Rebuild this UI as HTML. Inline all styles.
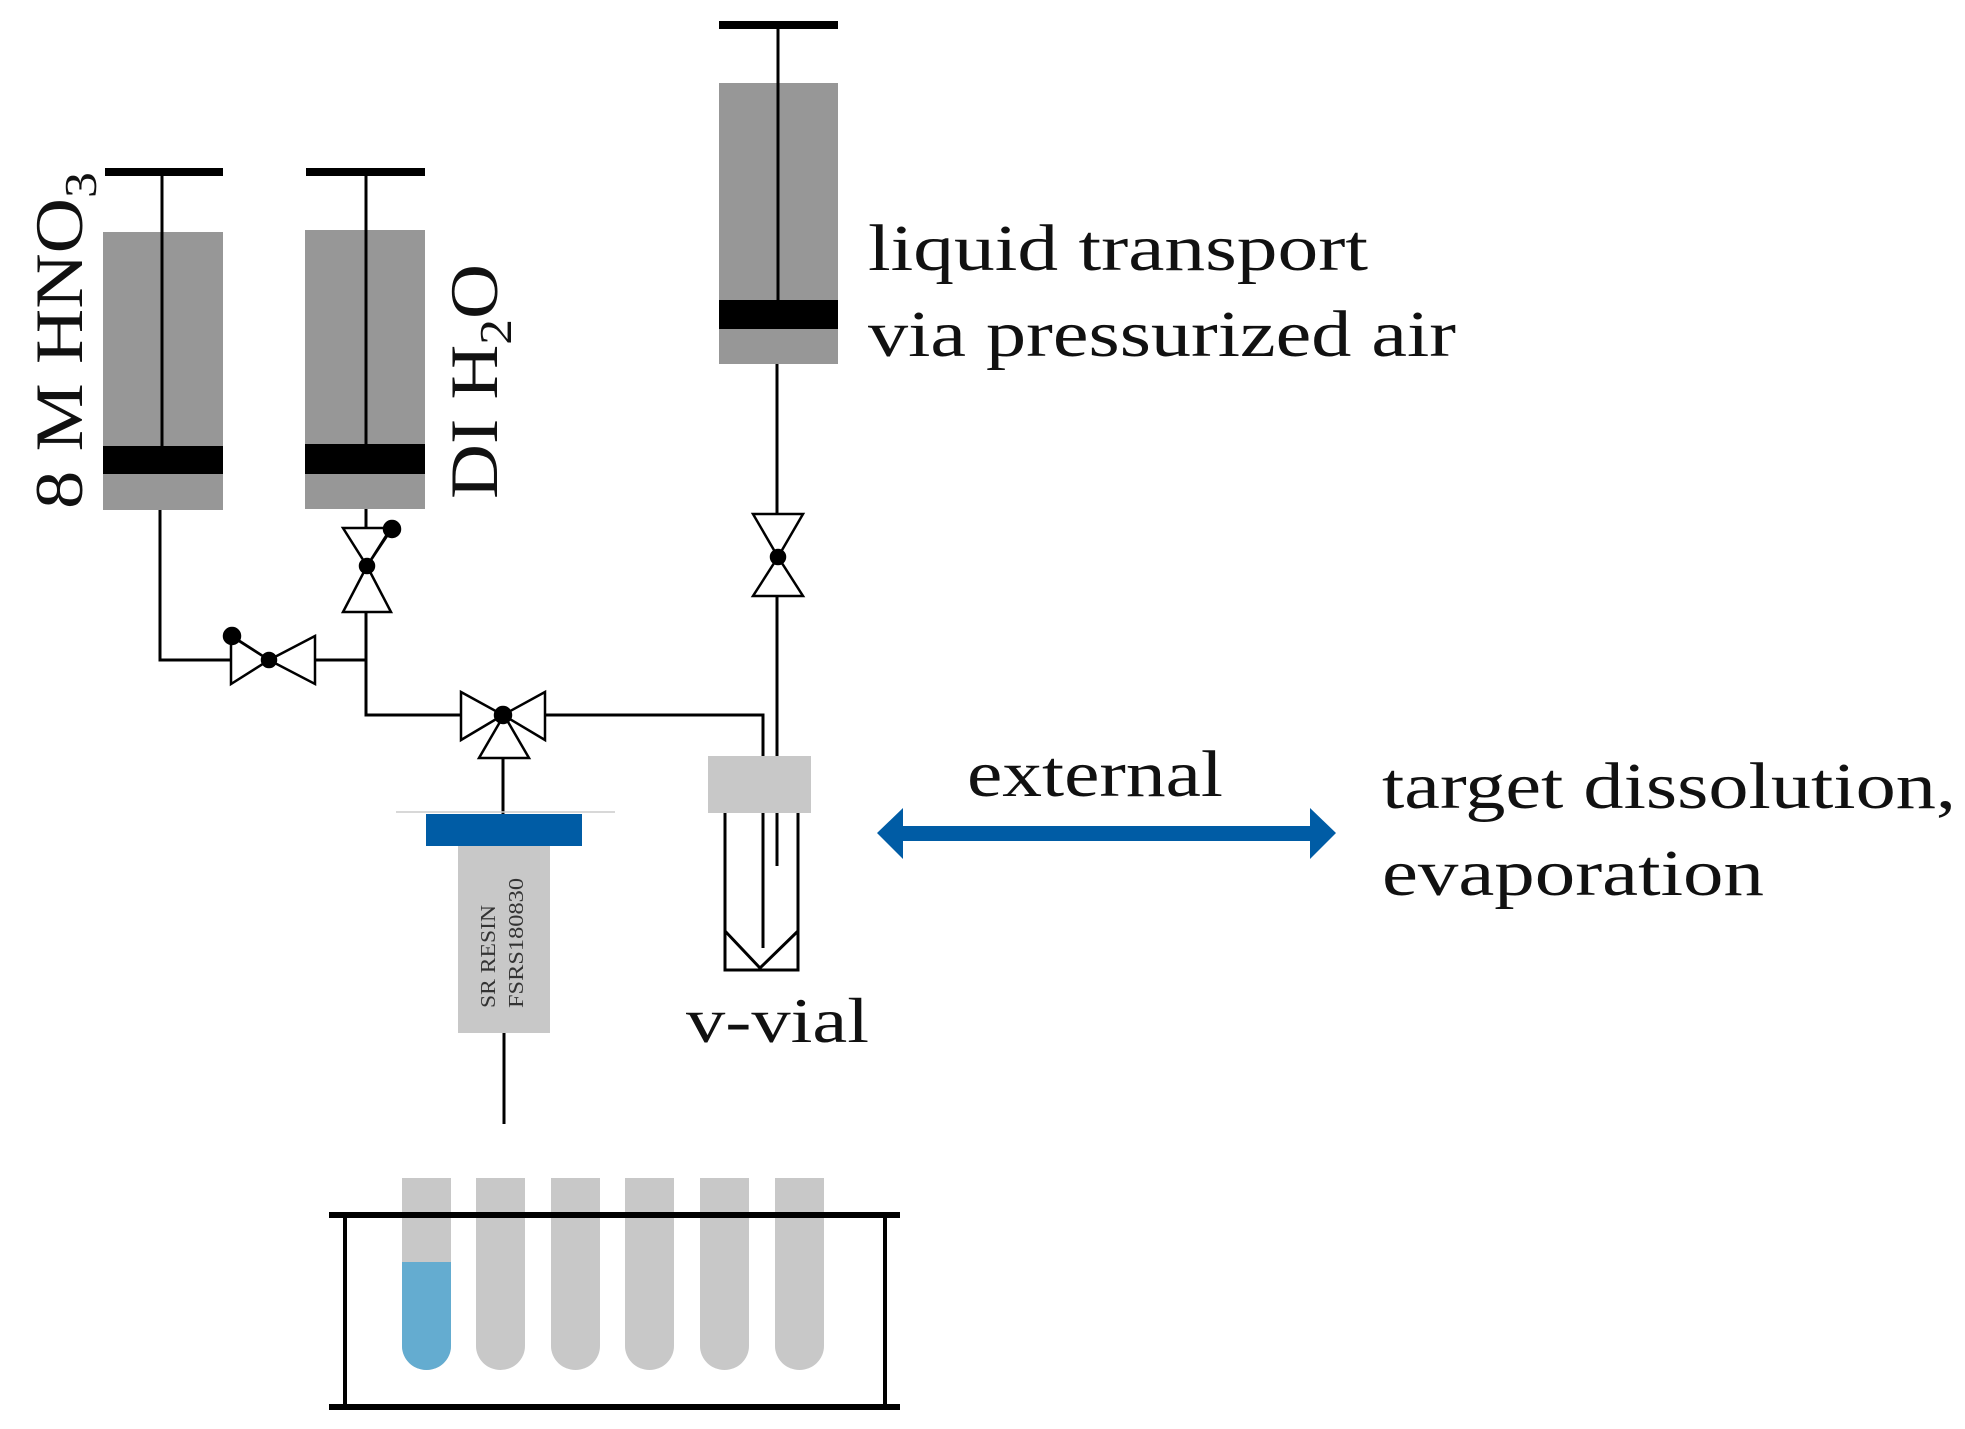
<!DOCTYPE html>
<html><head><meta charset="utf-8"><style>
html,body{margin:0;padding:0;background:#fff}
svg{display:block}
text{font-family:"Liberation Serif",serif;fill:#111}
</style></head><body>
<svg width="1965" height="1429" viewBox="0 0 1965 1429" xmlns="http://www.w3.org/2000/svg">
<g>
<rect x="103" y="232" width="120" height="278" fill="#979797"/>
<rect x="103" y="446" width="120" height="28" fill="#000"/>
<line x1="162" y1="172" x2="162" y2="446" stroke="#000" stroke-width="3"/>
<rect x="105" y="168" width="118" height="8" fill="#000"/>

<rect x="305" y="230" width="120" height="279" fill="#979797"/>
<rect x="305" y="444" width="120" height="30" fill="#000"/>
<line x1="366" y1="172" x2="366" y2="444" stroke="#000" stroke-width="3"/>
<rect x="306" y="168" width="119" height="8" fill="#000"/>

<rect x="719" y="83" width="119" height="281" fill="#979797"/>
<rect x="719" y="300" width="119" height="29" fill="#000"/>
<line x1="778" y1="25" x2="778" y2="300" stroke="#000" stroke-width="3"/>
<rect x="719" y="21" width="119" height="8" fill="#000"/>
</g>
<g fill="none" stroke="#000" stroke-width="3">
<polyline points="160,510 160,660 230,660"/>
<polyline points="315,660 366,660"/>
<line x1="366" y1="509" x2="366" y2="528"/>
<polyline points="366,612 366,715 461,715"/>
<polyline points="545,715 763,715 763,948"/>
<line x1="777" y1="364" x2="777" y2="514"/>
<line x1="777" y1="596" x2="777" y2="866"/>
<line x1="503" y1="758" x2="503" y2="814"/>
<line x1="504" y1="1033" x2="504" y2="1124"/>
</g>
<g fill="#fff" stroke="#000" stroke-width="2.5" stroke-linejoin="miter">
<polygon points="231,636 269,660 231,684"/>
<polygon points="315,636 269,660 315,684"/>
<polygon points="343,528 391,528 367,566"/>
<polygon points="343,612 391,612 367,566"/>
<polygon points="753,514 803,514 778,557"/>
<polygon points="753,596 803,596 778,557"/>
<polygon points="461,692 503,715 461,740"/>
<polygon points="545,692 503,715 545,740"/>
<polygon points="479,758 529,758 504,715"/>
</g>
<g fill="#000" stroke="#000" stroke-width="2.5">
<line x1="269" y1="660" x2="232" y2="636"/>
<circle cx="269" cy="660" r="7"/>
<circle cx="232" cy="636" r="8"/>
<line x1="367" y1="566" x2="391" y2="530"/>
<circle cx="367" cy="566" r="7"/>
<circle cx="392" cy="529" r="8"/>
<circle cx="778" cy="557" r="7"/>
<circle cx="503" cy="715" r="8"/>
</g>
<line x1="396" y1="812" x2="615" y2="812" stroke="#ccc" stroke-width="1.5"/>
<rect x="458" y="846" width="92" height="187" fill="#c8c8c8"/>
<rect x="426" y="814" width="156" height="32" fill="#005ca5"/>
<text transform="translate(495,1008) rotate(-90)" font-size="21" textLength="103" lengthAdjust="spacingAndGlyphs" style="fill:#333">SR RESIN</text>
<text transform="translate(523,1008) rotate(-90)" font-size="21" textLength="130" lengthAdjust="spacingAndGlyphs" style="fill:#333">FSRS180830</text>
<rect x="708" y="756" width="103" height="57" fill="#c8c8c8"/>
<g fill="none" stroke="#000" stroke-width="3">
<polyline points="725,813 725,970 798,970 798,813"/>
<polyline points="725,931 760,968 798,931"/>
</g>
<text x="686" y="1042" font-size="64" textLength="183" lengthAdjust="spacingAndGlyphs">v-vial</text>
<polygon points="877,833 903,808 903,826 1310,826 1310,808 1336,833 1310,859 1310,841 903,841 903,859" fill="#005ca5"/>
<text x="868" y="270" font-size="66" textLength="500" lengthAdjust="spacingAndGlyphs">liquid transport</text>
<text x="868" y="356" font-size="66" textLength="588" lengthAdjust="spacingAndGlyphs">via pressurized air</text>
<text x="967" y="796" font-size="66" textLength="256" lengthAdjust="spacingAndGlyphs">external</text>
<text x="1382" y="808" font-size="66" textLength="574" lengthAdjust="spacingAndGlyphs">target dissolution,</text>
<text x="1382" y="895" font-size="66" textLength="382" lengthAdjust="spacingAndGlyphs">evaporation</text>
<text transform="translate(82,509) rotate(-90)" font-size="68" textLength="337" lengthAdjust="spacingAndGlyphs">8 M HNO<tspan font-size="46" dy="14">3</tspan></text>
<text transform="translate(497,499) rotate(-90)" font-size="68" textLength="235" lengthAdjust="spacingAndGlyphs">DI H<tspan font-size="46" dy="14">2</tspan><tspan dy="-14">O</tspan></text>
<g fill="#c8c8c8">
<path d="M402,1178 H451 V1346 A24.5,24 0 0 1 402,1346 Z" fill="#c8c8c8"/>
<path d="M402,1262 H451 V1346 A24.5,24 0 0 1 402,1346 Z" fill="#64acd0"/>
<path d="M476,1178 H525 V1346 A24.5,24 0 0 1 476,1346 Z"/>
<path d="M551,1178 H600 V1346 A24.5,24 0 0 1 551,1346 Z"/>
<path d="M625,1178 H674 V1346 A24.5,24 0 0 1 625,1346 Z"/>
<path d="M700,1178 H749 V1346 A24.5,24 0 0 1 700,1346 Z"/>
<path d="M775,1178 H824 V1346 A24.5,24 0 0 1 775,1346 Z"/>
</g>
<g stroke="#000">
<line x1="329" y1="1215" x2="900" y2="1215" stroke-width="6"/>
<line x1="329" y1="1407" x2="900" y2="1407" stroke-width="6"/>
<line x1="345" y1="1215" x2="345" y2="1407" stroke-width="4"/>
<line x1="885" y1="1215" x2="885" y2="1407" stroke-width="4"/>
</g>
</svg>
</body></html>
